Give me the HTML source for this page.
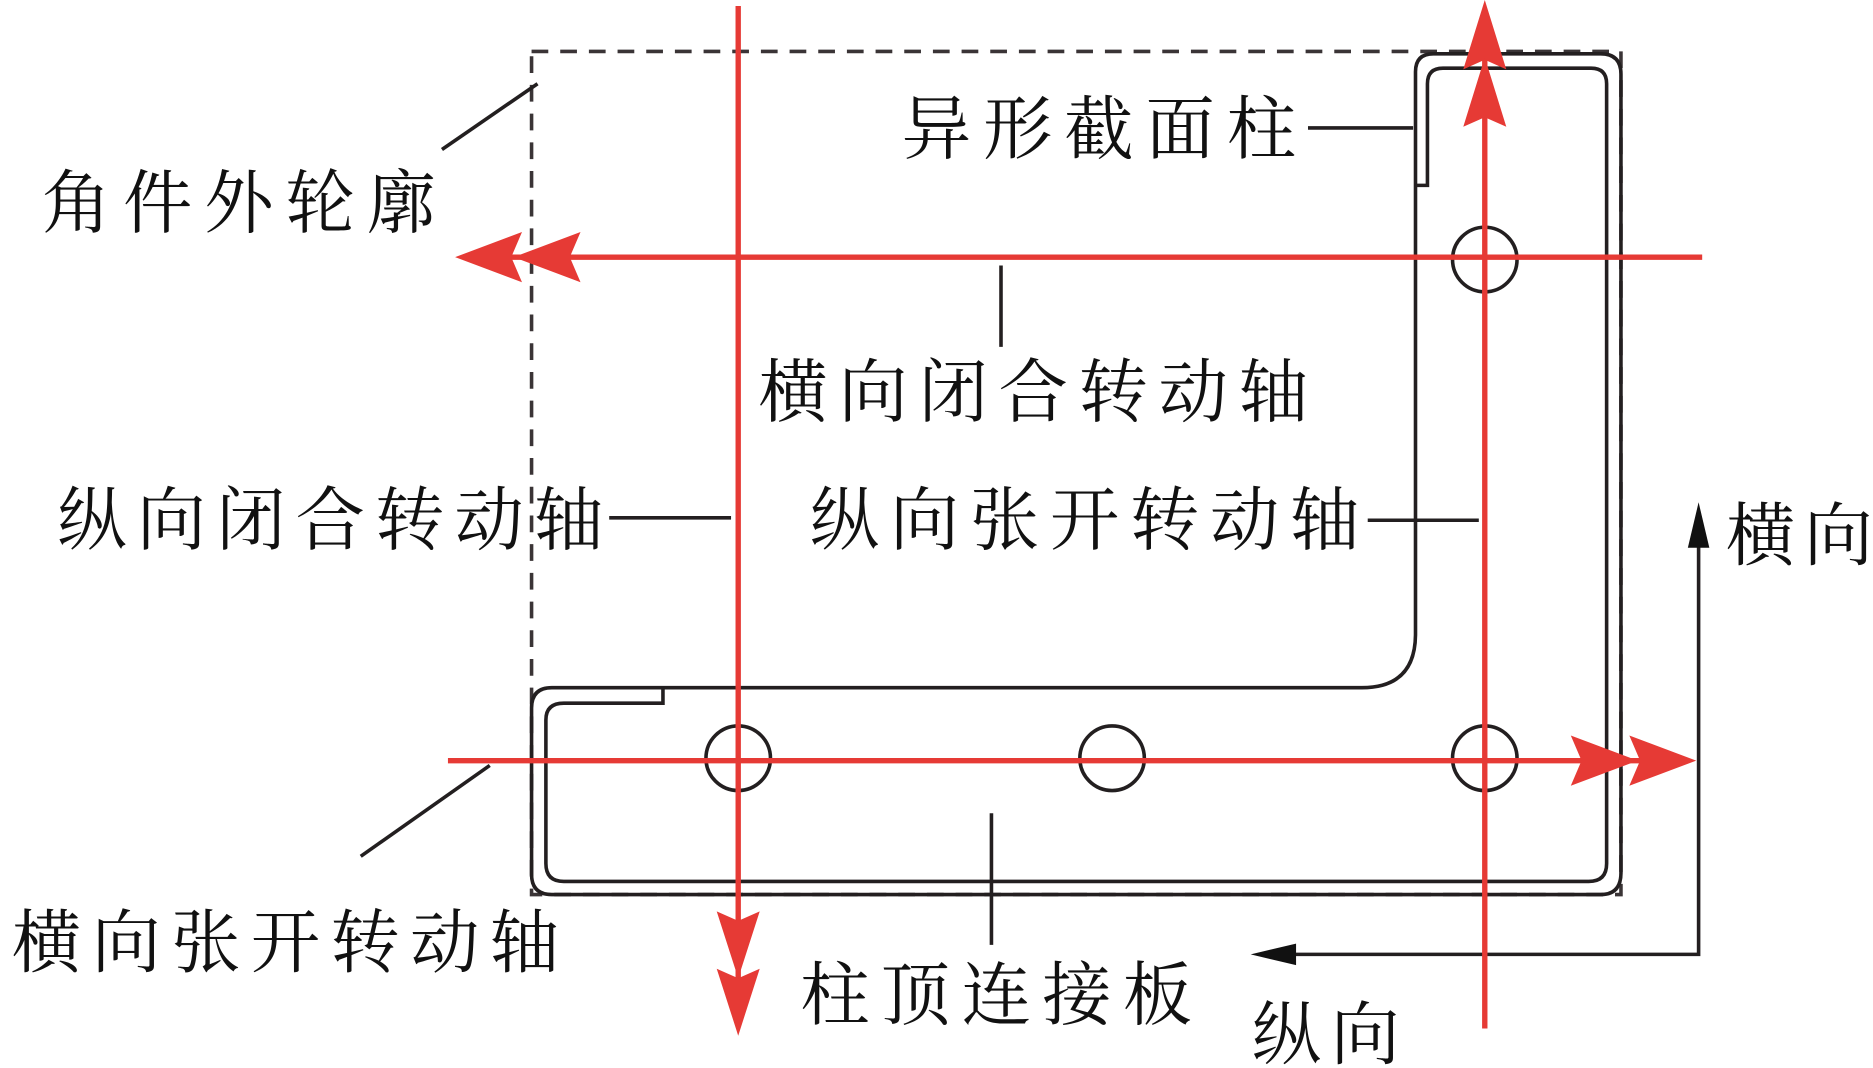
<!DOCTYPE html>
<html><head><meta charset="utf-8"><style>
html,body{margin:0;padding:0;background:#fff;}
svg{display:block;}
text{font-family:"Liberation Serif","Noto Serif CJK SC","Noto Sans CJK SC",serif;font-size:58px;fill:#111;}
</style></head><body>
<svg width="1873" height="1068" viewBox="0 0 1568 893" preserveAspectRatio="none" xmlns="http://www.w3.org/2000/svg">
<rect x="445" y="43" width="912" height="705" fill="none" stroke="#3a3436" stroke-width="3" stroke-dasharray="14,10"/>
<g fill="none" stroke="#231f20" stroke-width="3">
<path d="M555,575 L1140,575 Q1185,575 1185,530 L1185,60 Q1185,45 1200,45 L1340,45 Q1357,45 1357,62 L1357,730 Q1357,748 1340,748 L462,748 Q445,748 445,731 L445,592 Q445,575 462,575 L555,575"/>
<path d="M1185,155 L1195,155 L1195,70 Q1195,57 1208,57 L1332,57 Q1345,57 1345,70 L1345,722 Q1345,737 1330,737 L472,737 Q457,737 457,722 L457,602 Q457,588 472,588 L555,588 L555,575"/>
<circle cx="618" cy="634" r="27"/><circle cx="931" cy="634" r="27"/>
<circle cx="1243" cy="634" r="27"/><circle cx="1243" cy="217" r="27"/>
</g>
<g stroke="#231f20" stroke-width="3" fill="none">
<line x1="1095" y1="107" x2="1183" y2="107"/>
<line x1="370" y1="125" x2="450" y2="70"/>
<line x1="838" y1="222" x2="838" y2="290"/>
<line x1="510" y1="433" x2="612" y2="433"/>
<line x1="1145" y1="435" x2="1238" y2="435"/>
<line x1="302" y1="716" x2="410" y2="640"/>
<line x1="830" y1="680" x2="830" y2="790"/>
<polyline points="1060,798 1422,798 1422,455"/>
</g>
<polygon points="1422,420 1413,458 1431,458" fill="#111"/>
<polygon points="1047,798 1085,789 1085,807" fill="#111"/>
<g stroke="#e63a35" stroke-width="4.5" fill="none">
<line x1="618" y1="5" x2="618" y2="850"/>
<line x1="1243" y1="10" x2="1243" y2="860"/>
<line x1="390" y1="215" x2="1425" y2="215"/>
<line x1="375" y1="636" x2="1410" y2="636"/>
</g>
<g fill="#e63a35">
<!-- up arrows -->
<polygon points="1243,0 1261,58 1243,50 1225,58"/><polygon points="1243,48 1261,106 1243,98 1225,106"/>
<!-- down arrows -->
<polygon points="618,866 600,810 618,818 636,810"/><polygon points="618,818 600,762 618,770 636,762"/>
<!-- left arrows -->
<polygon points="381,215 437,194 428,215 437,236"/><polygon points="430,215 486,194 477,215 486,236"/>
<!-- right arrows -->
<polygon points="1420,636 1364,615 1373,636 1364,657"/><polygon points="1371,636 1315,615 1324,636 1315,657"/>
</g>
<text x="755" y="128" textLength="330">异形截面柱</text>
<text x="35" y="190" textLength="330">角件外轮廓</text>
<text x="635" y="348" textLength="460">横向闭合转动轴</text>
<text x="48" y="455" textLength="457">纵向闭合转动轴</text>
<text x="678" y="455" textLength="460">纵向张开转动轴</text>
<text x="1445" y="468" textLength="123">横向</text>
<text x="10" y="808" textLength="458">横向张开转动轴</text>
<text x="670" y="852" textLength="328">柱顶连接板</text>
<text x="1048" y="885" textLength="124">纵向</text>
</svg>
</body></html>
